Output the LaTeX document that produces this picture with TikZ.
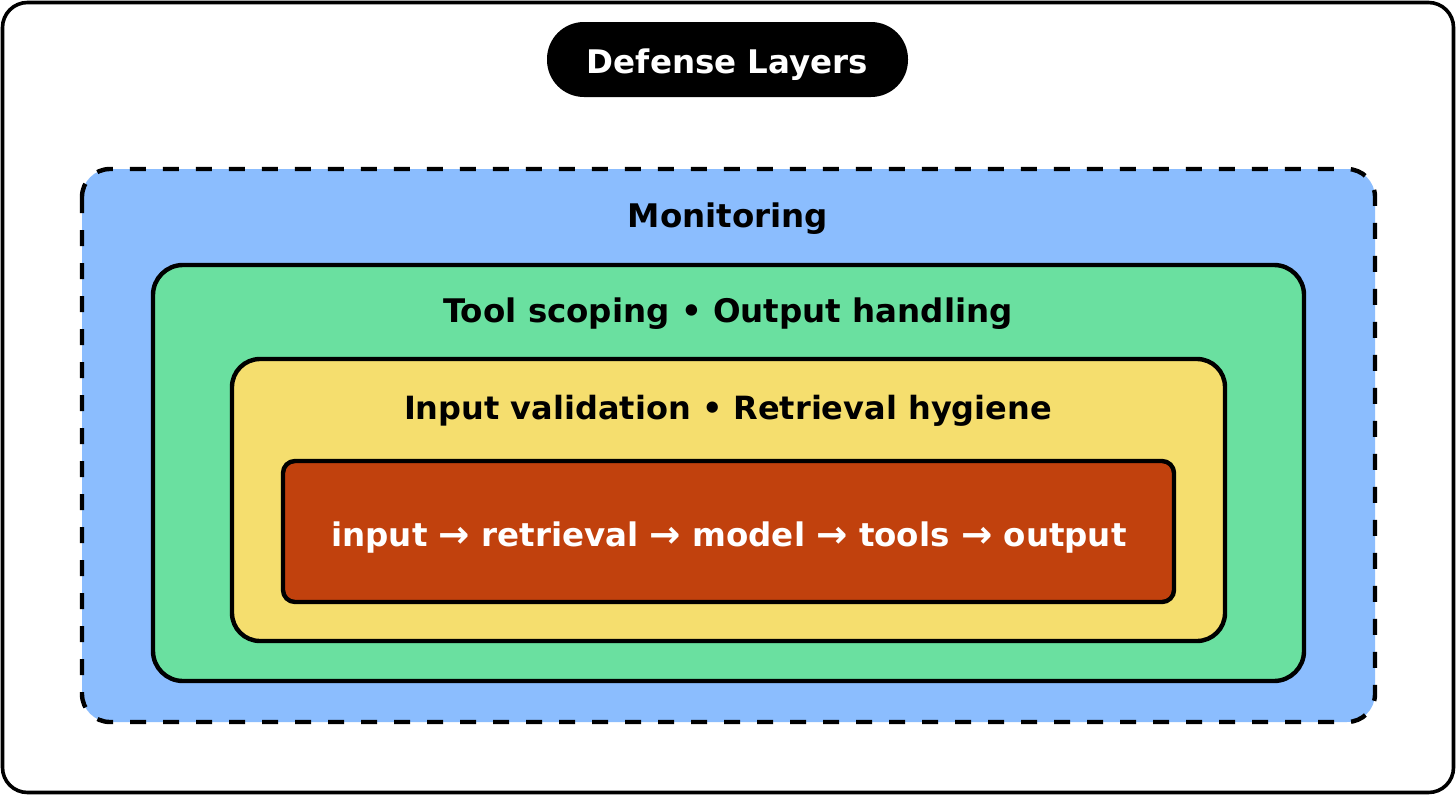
\documentclass[tikz,border=0pt]{standalone}
\usepackage{fontspec}
\usepackage{graphicx}
\setmainfont{DejaVu Sans}
\definecolor{frameblue}{RGB}{139,189,254}
\definecolor{framegreen}{RGB}{106,224,160}
\definecolor{frameyellow}{RGB}{245,222,110}
\definecolor{framered}{RGB}{193,65,13}
\newcommand{\pipearrow}{\raisebox{-1pt}{\scalebox{1.15}{→}}}
\begin{document}
\begin{tikzpicture}[x=1pt,y=-1pt,
  layerbox/.style={draw=black,line width=4.4pt},
  layertext/.style={font=\bfseries\fontsize{32.5}{38}\selectfont,anchor=base,inner sep=0pt},
]
\useasboundingbox (0,0) rectangle (1456,795);
% outer frame
\draw[line width=3.6pt,rounded corners=25pt,fill=white] (2.5,2.5) rectangle (1453.5,792.5);
% title pill
\node[fill=black,rounded corners=37pt,minimum width=361pt,minimum height=75pt,inner sep=0pt] (pill) at (727.5,59.5) {};
\node[text=white,font=\bfseries\fontsize{32.5}{38}\selectfont,anchor=base,inner sep=0pt] (title) at (727.5,73) {Defense Layers};
% monitoring
\fill[frameblue,rounded corners=28pt] (82,169) rectangle (1375,722);
\draw[line width=4.4pt,dash pattern=on 16pt off 17pt,rounded corners=28pt] (82,169) rectangle (1375,722);
\node[layertext] (mon) at (728,227) {Monitoring};
% green
\draw[layerbox,fill=framegreen,rounded corners=30pt] (153,265) rectangle (1304,681);
\node[layertext] (tool) at (728,322) {Tool scoping • Output handling};
% yellow
\draw[layerbox,fill=frameyellow,rounded corners=28pt] (232,359) rectangle (1225,641);
\node[layertext,font=\bfseries\fontsize{32}{38}\selectfont] (inp) at (728,419) {Input validation • Retrieval hygiene};
% red
\draw[layerbox,fill=framered,rounded corners=12pt] (283,461) rectangle (1174,602);
\node[layertext,text=white] (pipe) at (729,546) {input \pipearrow{} retrieval \pipearrow{} model \pipearrow{} tools \pipearrow{} output};
\end{tikzpicture}
\end{document}
